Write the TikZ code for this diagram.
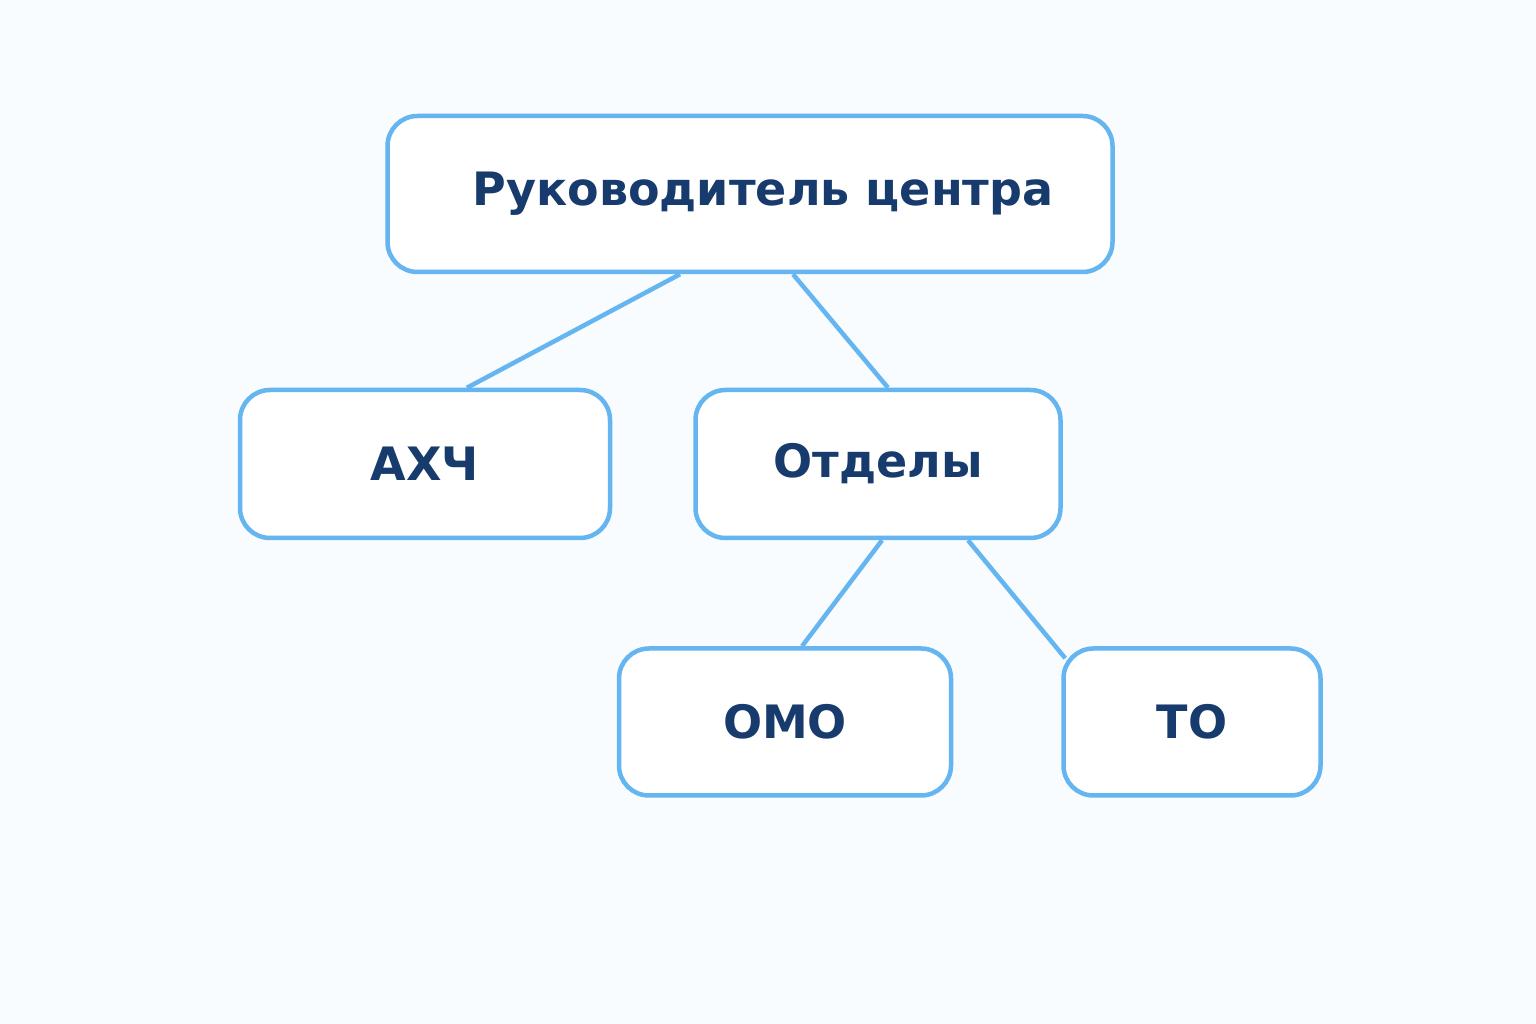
\documentclass[tikz,border=0pt]{standalone}
\usepackage{fontspec}
\setmainfont{DejaVu Sans}
\usetikzlibrary{positioning}
\definecolor{bgcol}{HTML}{F8FCFF}
\definecolor{edgecol}{HTML}{64B5F0}
\definecolor{txtcol}{HTML}{173B6C}
\begin{document}
\begin{tikzpicture}[x=1pt,y=1pt]
  \tikzstyle{unit}=[draw=edgecol,line width=4.5,fill=white,rounded corners=30,inner sep=0,text=txtcol,font=\fontsize{46}{56}\selectfont\bfseries]
  \tikzstyle{link}=[draw=edgecol,line width=4.5]
  \fill[bgcol] (0,0) rectangle (1536,1024);
  \useasboundingbox (0,0) rectangle (1536,1024);
  \node[unit,minimum width=725,minimum height=156] (head) at (750,830) {\hspace*{26pt}Руководитель центра};
  \node[unit,minimum width=370,minimum height=148] (axch) at (425,560) {АХЧ};
  \node[unit,minimum width=365,minimum height=148] (otd) at (878,560) {Отделы};
  \node[unit,minimum width=332,minimum height=147] (omo) at (785,302) {ОМО};
  \node[unit,minimum width=257,minimum height=147] (to) at (1192,302) {ТО};
  \draw[link] ([xshift=-70]head.south) -- ([xshift=42]axch.north);
  \draw[link] ([xshift=43]head.south) -- ([xshift=10]otd.north);
  \draw[link] ([xshift=4]otd.south) -- ([xshift=17]omo.north);
  \draw[link] ([xshift=90]otd.south) -- ([shift={(4,-12)}]to.north west);
\end{tikzpicture}
\end{document}
